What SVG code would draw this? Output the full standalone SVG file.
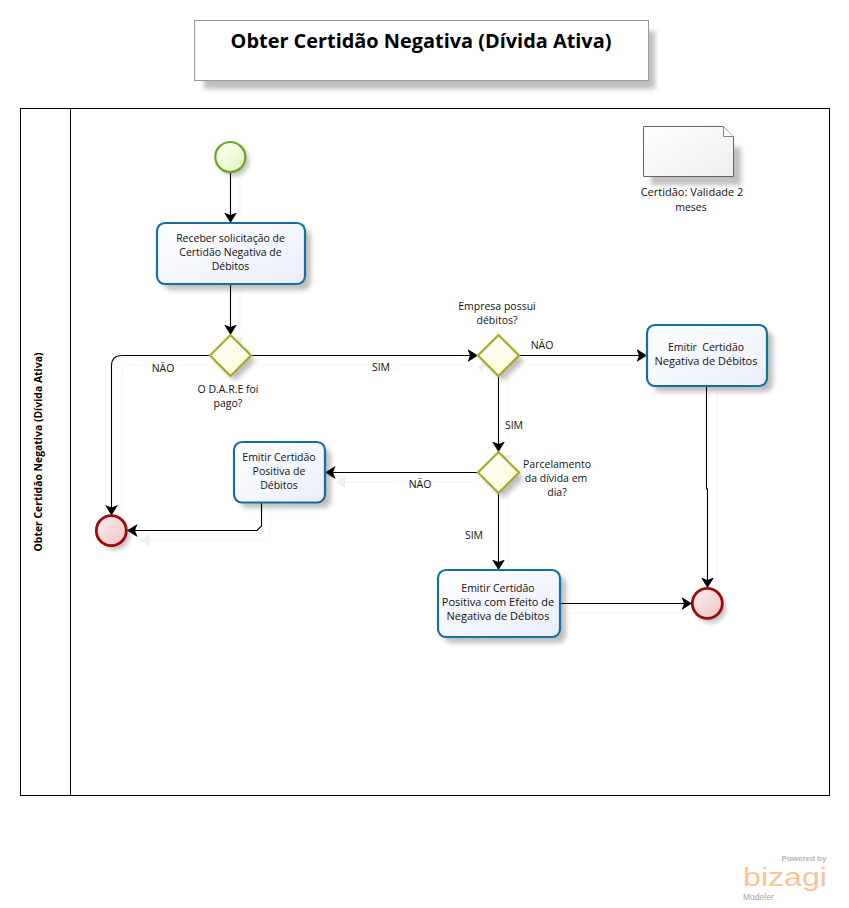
<svg xmlns="http://www.w3.org/2000/svg" width="849" height="908" viewBox="0 0 849 908">
<style>
text{font-family:"Open Sans","Noto Sans","Liberation Sans",sans-serif;font-size:10.5px;fill:#111;text-anchor:middle}
.title{font-size:19.9px;font-weight:700;fill:#000}
.lane{font-size:10.4px;font-weight:700;fill:#000}
.task{fill:url(#taskFill);stroke:#14719f;stroke-width:2.2}
.gw{fill:url(#gwFill);stroke:#a9a925;stroke-width:2.2}
.end{fill:url(#endFill);stroke:#9c0a0e;stroke-width:2.8}
.start{fill:url(#startFill);stroke:#6aa81f;stroke-width:2.2}
.sh{fill:#000;opacity:.25;filter:url(#blur)}
.flow{fill:none;stroke:#000;stroke-width:1.1;marker-end:url(#arrow)}
.ghost{fill:none;stroke:#f4f4f4;stroke-width:1}
.ghosthead{fill:#efefef}
.logo{font-family:"Liberation Sans",sans-serif}
</style>
<defs>
<filter id="blur" x="-20%" y="-20%" width="140%" height="140%"><feGaussianBlur stdDeviation="2.5"/></filter>
<linearGradient id="taskFill" x1="0" y1="0" x2="1" y2="1"><stop offset="0" stop-color="#fff"/><stop offset="1" stop-color="#e9eefb"/></linearGradient>
<linearGradient id="gwFill" x1="0" y1="0" x2="1" y2="1"><stop offset="0" stop-color="#fff"/><stop offset="1" stop-color="#fbfbd8"/></linearGradient>
<linearGradient id="endFill" x1="0" y1="0" x2="1" y2="1"><stop offset="0" stop-color="#fbf0f0"/><stop offset="1" stop-color="#efc2c2"/></linearGradient>
<linearGradient id="startFill" x1="0" y1="0" x2="1" y2="1"><stop offset="0" stop-color="#fdfff5"/><stop offset="1" stop-color="#e2f5c0"/></linearGradient>
<linearGradient id="docFill" x1="0" y1="0" x2="1" y2="1"><stop offset="0" stop-color="#fff"/><stop offset="1" stop-color="#eee"/></linearGradient>
<marker id="arrow" markerUnits="userSpaceOnUse" markerWidth="12" markerHeight="14" refX="10.5" refY="6.5" orient="auto"><path d="M0 0L10.500 6.500L0 13L2.500 6.500Z" fill="#000"/></marker>
</defs>

<g id="title-box">
<rect class="sh" x="204" y="31" width="451" height="58"/>
<rect x="194.500" y="20.500" width="454" height="60" fill="#fff" stroke="#999"/>
<text class="title" x="421" y="47.500">Obter Certidão Negativa (Dívida Ativa)</text>
</g>

<g id="pool">
<rect x="20.500" y="108.500" width="809" height="687" fill="#fff" stroke="#000"/>
<line x1="70.500" y1="108.500" x2="70.500" y2="795.500" stroke="#000"/>
<text class="lane" transform="translate(42,452) rotate(-90)">Obter Certidão Negativa (Dívida Ativa)</text>
</g>

<g id="ghost-connectors">
<path class="ghost" d="M240 172V215M240 290V330M122 520V374Q122 365 131 365H210M260 365H478M528 365H638M508 376V444M478 482H345M508 492V565M270 502V530Q270 540 260 540H150M717 386V580M568 613H690"/>
<path class="ghosthead" d="M235 337L245 337L240 344ZM503 455L513 455L508 462ZM486 362L478 366L482 374ZM345 476L336 482L345 488ZM150 534L139 540L150 546Z"/>
</g>

<g id="connectors">
<path class="flow" d="M230.500 172V223"/>
<path class="flow" d="M230.500 284V335"/>
<path class="flow" d="M210 355.500H122Q111.500 355.500 111.500 366V515.500"/>
<path class="flow" d="M251 355.500H478"/>
<path class="flow" d="M519 355.500H647"/>
<path class="flow" d="M498.500 376V452"/>
<path class="flow" d="M478 472.500H325"/>
<path class="flow" d="M498.500 492.500V570"/>
<path class="flow" d="M261.500 503V526L257 530.500H127"/>
<path class="flow" d="M706.500 386V489H707.500V588"/>
<path class="flow" d="M560 603.500H692"/>
</g>

<g id="start-event">
<circle class="sh" cx="234" cy="161" r="15"/>
<circle class="start" cx="230.300" cy="157" r="15"/>
</g>

<g id="task-receber">
<rect class="sh" x="163" y="229" width="148" height="61" rx="8"/>
<rect class="task" x="157" y="223" width="148" height="61" rx="8"/>
<text x="230.500" y="242">Receber solicitação de</text>
<text x="230.500" y="256">Certidão Negativa de</text>
<text x="230.500" y="270">Débitos</text>
</g>

<g id="gateway-dare">
<path class="sh" d="M235 341L256 361L235 381L215 361Z"/>
<path class="gw" d="M230.500 335L251 355.500L230.500 376L210 355.500Z"/>
<text x="228" y="393">O D.A.R.E foi</text>
<text x="228" y="407">pago?</text>
</g>

<g id="gateway-debitos">
<path class="sh" d="M503 341L524 361L503 381L483 361Z"/>
<path class="gw" d="M498.500 335L519 355.500L498.500 376L478 355.500Z"/>
<text x="497" y="310">Empresa possui</text>
<text x="497" y="324">débitos?</text>
</g>

<g id="gateway-parcelamento">
<path class="sh" d="M503 458L524 478L503 498L483 478Z"/>
<path class="gw" d="M498.500 452L519 472.500L498.500 493L478 472.500Z"/>
<text x="557" y="468">Parcelamento</text>
<text x="556" y="482">da dívida em</text>
<text x="557" y="496">dia?</text>
</g>

<g id="task-negativa">
<rect class="sh" x="653" y="331" width="120" height="61" rx="8"/>
<rect class="task" x="647" y="325" width="120" height="61" rx="8"/>
<text x="706" y="351" xml:space="preserve">Emitir  Certidão</text>
<text x="706" y="365" style="font-size:11px">Negativa de Débitos</text>
</g>

<g id="task-positiva">
<rect class="sh" x="240" y="448" width="91" height="60" rx="8"/>
<rect class="task" x="234" y="442" width="91" height="60.500" rx="8"/>
<text x="279" y="461">Emitir Certidão</text>
<text x="279" y="475">Positiva de</text>
<text x="279" y="489">Débitos</text>
</g>

<g id="task-efeito">
<rect class="sh" x="444" y="576" width="122" height="67" rx="8"/>
<rect class="task" x="438" y="570" width="122" height="67" rx="8"/>
<text x="498" y="592">Emitir Certidão</text>
<text x="498" y="606" style="font-size:11px">Positiva com Efeito de</text>
<text x="498" y="620" style="font-size:11px">Negativa de Débitos</text>
</g>

<g id="end-event-1">
<circle class="sh" cx="115" cy="535" r="15"/>
<circle class="end" cx="111.300" cy="530.700" r="15"/>
</g>

<g id="end-event-2">
<circle class="sh" cx="711" cy="608" r="15"/>
<circle class="end" cx="707.300" cy="603.300" r="15"/>
</g>

<g id="artifact-certidao">
<rect class="sh" x="651" y="147" width="90" height="38"/>
<path d="M643.500 126.500H723.500L733.500 136.500V176.500H643.500Z" fill="url(#docFill)" stroke="#666"/>
<path d="M723.500 126.500V136.500H733.500" fill="#fff" stroke="#888"/>
<text x="692" y="196" style="font-size:11px">Certidão: Validade 2</text>
<text x="691" y="211">meses</text>
</g>

<g id="flow-labels">
<text x="163" y="372">NÃO</text>
<text x="381" y="371">SIM</text>
<text x="542" y="349">NÃO</text>
<text x="514" y="429">SIM</text>
<text x="420" y="488">NÃO</text>
<text x="474" y="539">SIM</text>
</g>

<g id="logo">
<text class="logo" x="804" y="861" style="font-size:8px;font-weight:700;fill:#b5b5b5">Powered by</text>
<text class="logo" x="785" y="886" textLength="84" lengthAdjust="spacingAndGlyphs" style="font-size:25px;fill:#f9c595">bizagi</text>
<text class="logo" x="743" y="899.500" style="font-size:8.500px;fill:#a5a5a5;text-anchor:start">Modeler</text>
</g>
</svg>
